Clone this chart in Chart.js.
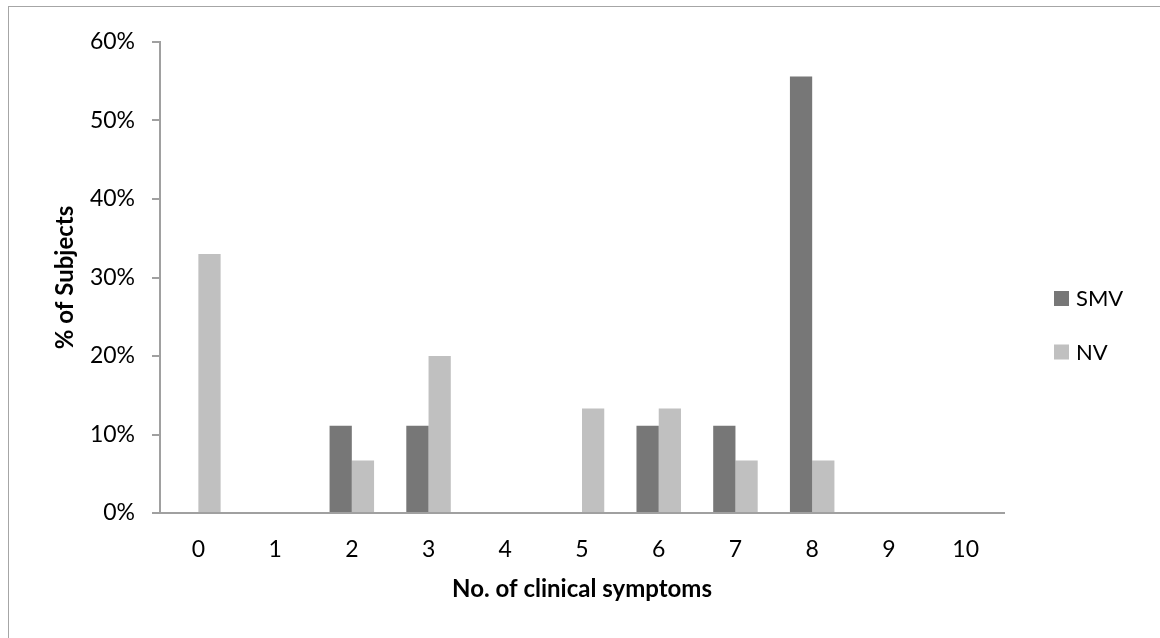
<!DOCTYPE html>
<html>
<head>
<meta charset="utf-8">
<script src="https://cdn.jsdelivr.net/npm/chart.js@4"></script>
<style>
  html, body { margin: 0; padding: 0; background: #fff; }
  #frame {
    position: absolute;
    left: 8px;
    top: 6px;
    width: 1170px;
    height: 660px;
    border: 1px solid #a6a6a6;
  }
  #wrap { position: absolute; left: 0; top: 0; width: 1160px; height: 638px; }
</style>
</head>
<body>
<div id="frame"></div>
<div id="wrap"><canvas id="chart" width="1160" height="638"></canvas></div>
<script>
const categories = ["0", "1", "2", "3", "4", "5", "6", "7", "8", "9", "10"];
const smvValues = [0, 0, 11.1, 11.1, 0, 0, 11.1, 11.1, 55.6, 0, 0];
const nvValues = [33, 0, 6.7, 20, 0, 13.3, 13.3, 6.7, 6.7, 0, 0];
const seriesNames = ["SMV", "NV"];
const seriesColors = ["#777777", "#c0c0c0"];

const FONT = "Lato, 'Open Sans', sans-serif";
const AXIS_COLOR = "#a0a0a0";

// legend drawn by hand so it sits where Excel put it
const sideLegend = {
  id: "sideLegend",
  afterDraw(chart) {
    const ctx = chart.ctx;
    ctx.save();
    ctx.font = "22px " + FONT;
    ctx.textBaseline = "middle";
    seriesNames.forEach((name, i) => {
      const y = 298 + i * 53.5;
      ctx.fillStyle = seriesColors[i];
      ctx.fillRect(1054, y - 7, 15, 15);
      ctx.fillStyle = "#000";
      ctx.fillText(name, 1076, y + 1);
    });
    ctx.restore();
  },
};

new Chart(document.querySelector("#chart"), {
  type: "bar",
  data: {
    labels: categories,
    datasets: [
      { label: seriesNames[0], data: smvValues, backgroundColor: seriesColors[0] },
      { label: seriesNames[1], data: nvValues, backgroundColor: seriesColors[1] },
    ],
  },
  options: {
    responsive: false,
    animation: false,
    layout: { padding: { left: 0, right: 156, top: 42, bottom: 0 } },
    datasets: {
      bar: { categoryPercentage: 0.58, barPercentage: 1.0 },
    },
    scales: {
      x: {
        afterFit: (scale) => { scale.height = 125; },
        grid: { display: false, drawTicks: false },
        border: { color: AXIS_COLOR, width: 2 },
        ticks: { color: "#000", font: { family: FONT, size: 23 }, padding: 23 },
        title: {
          display: true,
          text: "No. of clinical symptoms",
          color: "#000",
          font: { family: FONT, size: 24, weight: "bold" },
          padding: { bottom: 34 },
        },
      },
      y: {
        min: 0,
        max: 60,
        afterFit: (scale) => { scale.width = 160; },
        ticks: {
          stepSize: 10,
          color: "#000",
          font: { family: FONT, size: 23 },
          padding: 17,
          callback: (value) => `${value}%`,
        },
        grid: { drawOnChartArea: false, tickLength: 8, color: AXIS_COLOR, lineWidth: 2 },
        border: { color: AXIS_COLOR, width: 2 },
        title: {
          display: true,
          text: "% of Subjects",
          color: "#000",
          font: { family: FONT, size: 24, weight: "bold" },
          padding: { top: 51 },
        },
      },
    },
    plugins: {
      legend: { display: false },
      tooltip: { enabled: false },
    },
  },
  plugins: [sideLegend],
});
</script>
</body>
</html>
